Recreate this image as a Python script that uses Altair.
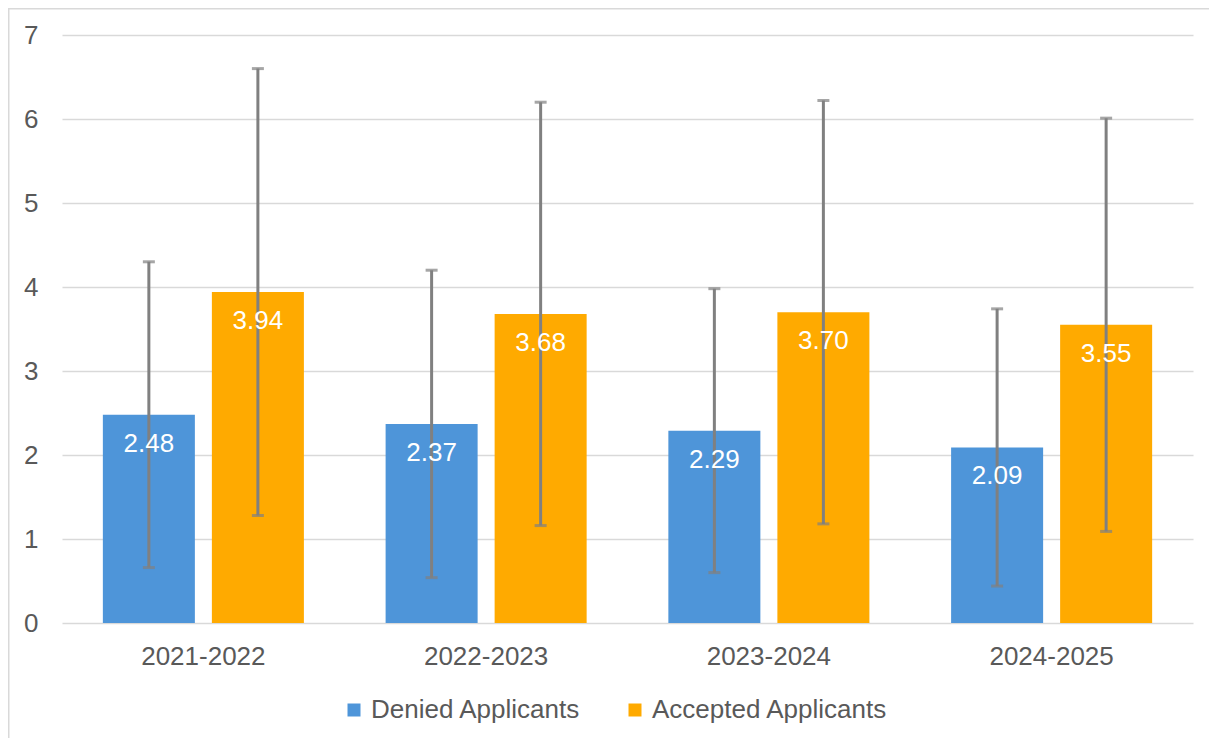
import altair as alt
import pandas as pd

years = ["2021-2022", "2022-2023", "2023-2024", "2024-2025"]
series = ["Denied Applicants", "Accepted Applicants"]
denied = [2.48, 2.37, 2.29, 2.09]
accepted = [3.94, 3.68, 3.70, 3.55]
denied_err = [1.82, 1.83, 1.69, 1.65]
accepted_err = [2.66, 2.52, 2.52, 2.46]
colors = ["#4e95d9", "#ffaa00"]

rows = []
for i, y in enumerate(years):
    for s, vals, errs in ((series[0], denied, denied_err), (series[1], accepted, accepted_err)):
        v = vals[i]
        e = errs[i]
        rows.append({"year": y, "series": s, "value": v, "lo": v - e, "hi": v + e,
                     "label": f"{v:.2f}"})
df = pd.DataFrame(rows)

FONT = "Liberation Sans"
TXT = "#595959"

x = alt.X("year:N", sort=years, title=None,
          scale=alt.Scale(paddingInner=0.289, paddingOuter=0.1445),
          axis=alt.Axis(labelFontSize=26, labelColor=TXT, labelFont=FONT, ticks=False,
                        domain=False, labelPadding=20, labelAngle=0, grid=False))
xo = alt.XOffset("series:N", sort=series,
                 scale=alt.Scale(paddingInner=0.156, paddingOuter=0))
yv = alt.Y("value:Q", title=None,
           scale=alt.Scale(domain=[0, 7], nice=False),
           axis=alt.Axis(values=[0, 1, 2, 3, 4, 5, 6, 7], format="d", labelFontSize=26,
                         labelColor=TXT, labelFont=FONT, ticks=False, domain=False,
                         labelPadding=24, gridColor="#d9d9d9", gridWidth=1.5))

base = alt.Chart(df)

bars = base.mark_bar().encode(
    x=x, xOffset=xo, y=yv,
    color=alt.Color("series:N", sort=series,
                    scale=alt.Scale(domain=series, range=colors),
                    legend=alt.Legend(title=None, orient="none", legendX=279, legendY=662,
                                      direction="horizontal", symbolType="square",
                                      symbolSize=169, symbolStrokeWidth=0,
                                      labelFontSize=26, labelColor=TXT, labelFont=FONT,
                                      labelOffset=4, columnPadding=41, padding=0,
                                      labelLimit=400)),
)

rules = base.mark_rule(color="#808080", strokeWidth=3).encode(
    x=x, xOffset=xo, y=alt.Y("lo:Q"), y2="hi:Q")

caps_hi = base.mark_tick(color="#808080", size=12, thickness=3, orient="horizontal").encode(
    x=x, xOffset=xo, y=alt.Y("hi:Q"))
caps_lo = base.mark_tick(color="#808080", size=12, thickness=3, orient="horizontal").encode(
    x=x, xOffset=xo, y=alt.Y("lo:Q"))

labels = base.mark_text(color="white", fontSize=26, font=FONT, baseline="middle", dy=29).encode(
    x=x, xOffset=xo, y=alt.Y("value:Q"), text="label:N")

border = alt.Chart(pd.DataFrame({"a": [0]})).mark_rect(
    fill=None, stroke="#d9d9d9", strokeWidth=1.5, clip=False).encode(
    x=alt.value(-53.25), x2=alt.value(1400), y=alt.value(-26.25), y2=alt.value(900))

chart = alt.layer(border, bars, rules, caps_hi, caps_lo, labels).properties(
    width=1131, height=588,
    autosize=alt.AutoSizeParams(type="none"),
    padding={"left": 54, "top": 27, "right": 16, "bottom": 115},
).configure(font=FONT).configure_view(stroke="transparent", strokeWidth=0)

chart.save("out.html", embed_options={"renderer": "svg", "actions": False})
